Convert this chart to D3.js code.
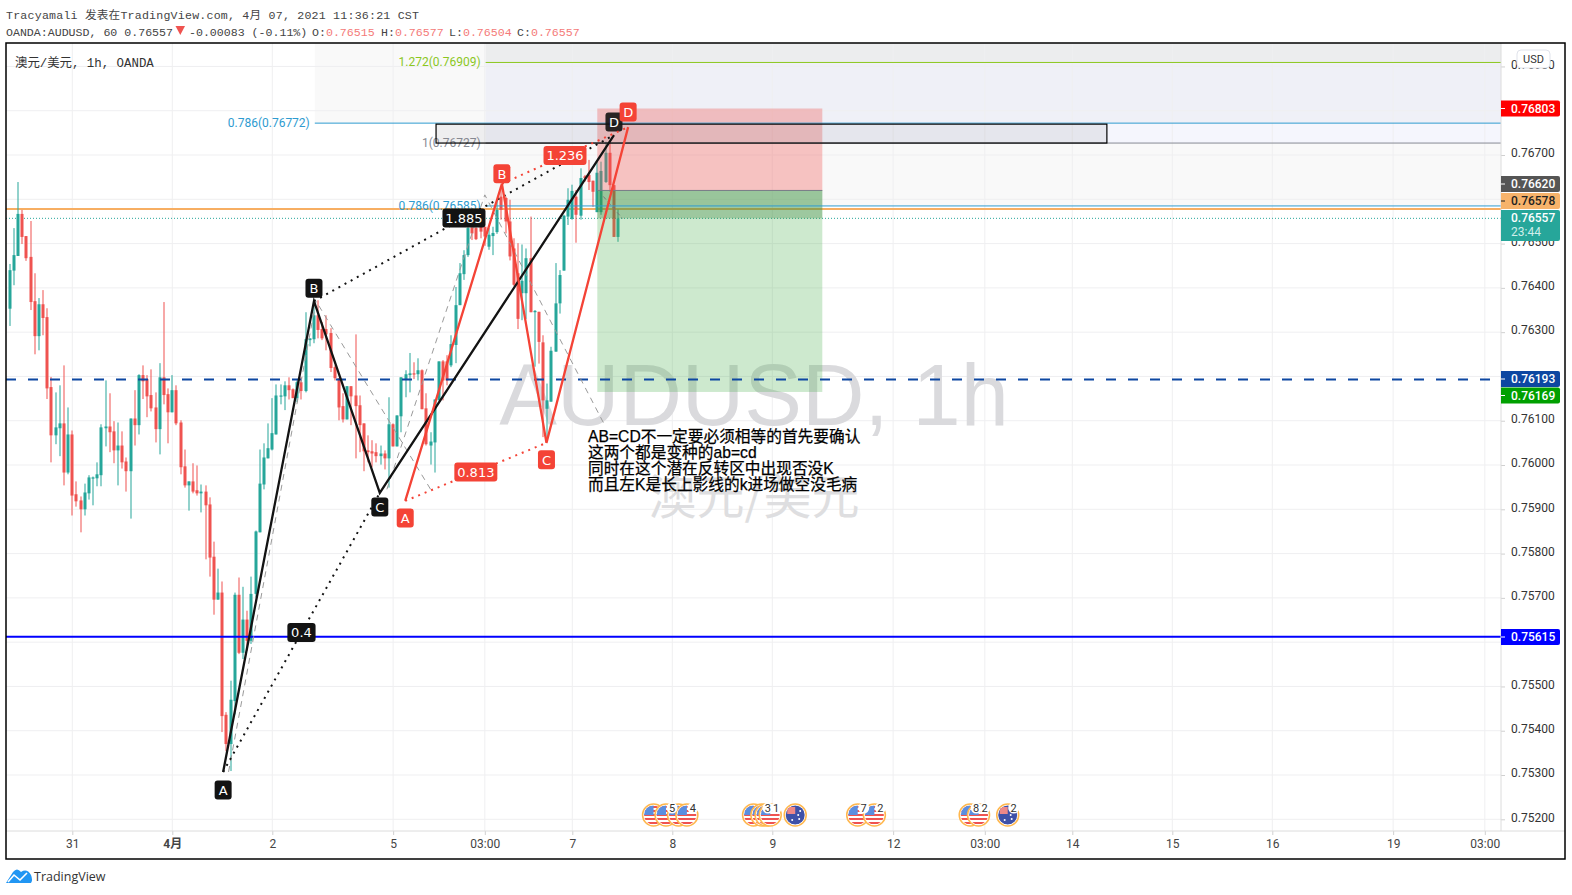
<!DOCTYPE html>
<html><head><meta charset="utf-8">
<script src="https://cdn.jsdelivr.net/npm/d3@7/dist/d3.min.js"></script>
<style>
html,body{margin:0;padding:0;background:#fff;overflow:hidden}
svg{display:block}
text{font-family:Roboto,"Noto Sans CJK SC",sans-serif}
.mono{font-family:"Liberation Mono","Noto Sans CJK SC",monospace}
</style></head><body><div id="c"></div>
<script>
// Each candle: open, high, low, close in 1e-5 price units
const candles=[
[76353,76454,76314,76440],[76439,76535,76406,76474],[76472,76639,76472,76567],[76567,76576,76499,76515],[76517,76517,76461,76467],
[76470,76551,76350,76368],[76370,76433,76250,76291],[76291,76377,76259,76363],[76363,76395,76293,76332],[76334,76354,76149,76173],
[76176,76199,76006,76067],[76067,76164,76047,76085],[76083,76180,76020,76094],[76094,76225,75954,75983],[75983,76130,75979,76069],
[76069,76078,75886,75931],[75934,75963,75906,75918],[75920,75929,75848,75900],[75900,75958,75886,75938],[75936,75977,75922,75972],
[75970,75974,75909,75972],[75970,76006,75952,75979],[75977,76092,75952,76085],[76083,76191,76042,76087],[76087,76162,76029,76074],
[76076,76099,76004,76033],[76033,76096,75954,76044],[76044,76076,75992,76006],[76008,76017,75940,75986],[75986,76105,75879,76105],
[76105,76169,76044,76090],[76090,76205,76069,76203],[76203,76225,76149,76189],[76194,76203,76108,76155],[76158,76216,76121,76128],
[76130,76164,76051,76081],[76081,76230,76024,76198],[76198,76368,76137,76158],[76160,76173,76049,76119],[76119,76203,76119,76169],
[76169,76180,76090,76094],[76096,76101,75979,75995],[75997,76035,75949,75954],[75954,75963,75897,75963],[75963,76004,75936,75940],
[75943,75999,75931,75936],[75936,75956,75893,75940],[75940,75954,75787,75909],[75911,75927,75748,75791],[75793,75827,75662,75696],
[75696,75766,75696,75712],[75712,75737,75397,75433],[75436,75442,75354,75370],[75370,75513,75309,75470],[75467,75712,75437,75707],
[75707,75746,75573,75576],[75576,75725,75562,75651],[75651,75671,75580,75603],[75603,75748,75596,75709],[75709,75852,75701,75850],
[75848,76035,75848,75958],[75956,76049,75945,76017],[76015,76094,76015,76038],[76035,76151,76033,76072],[76069,76182,76069,76157],
[76155,76182,76137,76157],[76155,76189,76124,76180],[76180,76198,76148,76169],[76171,76173,76151,76151],[76151,76191,76142,76187],
[76187,76198,76148,76167],[76167,76345,76164,76284],[76282,76286,76268,76286],[76284,76366,76275,76338],[76338,76372,76286,76305],
[76307,76323,76282,76286],[76307,76338,76259,76295],[76298,76309,76210,76219],[76221,76225,76191,76196],[76196,76196,76101,76130],
[76133,76162,76096,76103],[76103,76178,76103,76178],[76178,76178,76090,76155],[76157,76295,76015,76133],[76135,76157,76029,76090],
[76094,76094,75986,76031],[76033,76067,76006,76029],[76031,76056,75995,76026],[76029,76049,76006,76020],[76020,76044,76001,76026],
[76026,76033,75990,76015],[76015,76153,75949,76092],[76092,76094,76042,76042],[76042,76112,76042,76112],[76110,76198,76074,76198],
[76194,76214,76153,76205],[76203,76253,76164,76207],[76207,76232,76194,76205],[76205,76241,76191,76214],[76214,76216,76126,76126],
[76128,76162,76044,76047],[76044,76074,76001,76053],[76051,76148,75983,76148],[76146,76234,76146,76234],[76234,76237,76146,76191],
[76234,76248,76180,76191],[76225,76293,76221,76273],[76271,76402,76230,76361],[76361,76456,76361,76433],[76431,76485,76418,76474],
[76474,76558,76470,76535],[76536,76561,76508,76523],[76535,76538,76508,76510],[76542,76565,76512,76527],[76538,76538,76495,76516],
[76493,76535,76486,76520],[76517,76538,76474,76524],[76526,76599,76522,76576],[76606,76627,76554,76576],[76603,76606,76523,76550],
[76550,76599,76462,76471],[76489,76512,76404,76407],[76433,76501,76307,76330],[76388,76498,76327,76416],[76388,76489,76330,76467],
[76467,76561,76345,76345],[76345,76350,76222,76348],[76346,76346,76229,76278],[76277,76293,76063,76146],[76127,76184,76063,76146],
[76143,76267,76143,76258],[76256,76456,76256,76365],[76365,76440,76342,76429],[76439,76565,76439,76563],[76561,76625,76542,76599],
[76556,76633,76554,76619],[76606,76621,76502,76565],[76563,76670,76554,76648],[76652,76655,76640,76648],[76655,76689,76621,76639],
[76642,76642,76583,76617],[76571,76685,76571,76660],[76571,76685,76565,76664],[76639,76730,76637,76705],[76705,76730,76617,76632],
[76632,76632,76515,76515],[76515,76577,76504,76557]];

const priceTicks=[0.769,0.767,0.765,0.764,0.763,0.761,0.76,0.759,0.758,0.757,0.755,0.754,0.753,0.752];
const gridPrices=[0.769,0.768,0.767,0.766,0.765,0.764,0.763,0.762,0.761,0.76,0.759,0.758,0.757,0.756,0.755,0.754,0.753,0.752];
const timeTickBars=[15,39,63,92,114,135,159,183,212,234,255,279,303,332,354];
const timeTickLabels=["31","4月","2","5","03:00","7","8","9","12","03:00","14","15","16","19","03:00"];

// Harmonic patterns: [label, bar, price]
const blackPattern=[["A",51.2,0.75307],["B",73,0.76370],["C",88.8,0.75937],["D",145,0.76745]];
const redPattern=[["A",94.9,0.75919],["B",118.1,0.76635],["C",128.8,0.76050],["D",148.4,0.76763]];
const blackRatios=["0.4","1.885"];
const redRatios=["0.813","1.236"];
const channelA=[[52.5,0.75307],[73.5,0.76370],[101,0.75945]];
const channelB=[[90.5,0.75945],[114,0.76610],[142.5,0.76095]];

const fibLevels=[["1.272(0.76909)",0.76909,114.2,"#8bc71f"],["0.786(0.76772)",0.76772,73.2,"#2e9bd0"],["1(0.76727)",0.76727,114.2,"#888b94"],["0.786(0.76585)",0.76585,114.2,"#2e9bd0"]];
const position={start:141,end:195,stop:0.76805,entry:0.76620,current:0.76557,target:0.76165};
const hLines={resistance:0.76578,support:0.76193,floor:0.75612,last:0.76557};
const priceBadges=[
 ["0.76803",108.5,"#ff0000","#fff"],["0.76620",184,"#555555","#fff"],["0.76578",201,"#f7b36b","#222"],
 ["0.76193",379,"#0d47a1","#fff"],["0.76169",395.5,"#00a000","#fff"],["0.75615",637,"#0000ff","#fff"]];
const noteLines=["AB=CD不一定要必须相等的首先要确认","这两个都是变种的ab=cd","同时在这个潜在反转区中出现否没K","而且左K是长上影线的k进场做空没毛病"];
const events=[[154.5,"us",""],[157.5,"us","5"],[160.5,"us",""],[162.5,"us","4"],[178.5,"us",""],[180.5,"us","3"],[181.5,"us",""],[182.5,"us","1"],[188.5,"au",""],[203.5,"us","7"],[207.5,"us","2"],[230.5,"us","8"],[232.5,"us","2"],[239.5,"au","2"]];

const W=1572,H=895,L=6,R=1565,T=43,B=859,AX=1501,AY=831;
const x=d3.scaleLinear().domain([15,39]).range([72.3,172.3]);
const y=d3.scaleLinear().domain([0.759,0.766]).range([509.3,199.3]);
const pv=v=>y(v/1e5);
const UP="#26a69a",DN="#ef5350";
const svg=d3.select("#c").append("svg").attr("width",W).attr("height",H);
const defs=svg.append("defs");
defs.append("clipPath").attr("id","plot").append("rect").attr("x",L).attr("y",T).attr("width",AX-L).attr("height",AY-T);

// header
svg.append("text").attr("class","mono").attr("x",6).attr("y",19).attr("font-size",11.6).attr("fill","#444")
 .attr("textLength",413).attr("lengthAdjust","spacing")
 .text("Tracyamali 发表在TradingView.com, 4月 07, 2021 11:36:21 CST");
const hdr=svg.append("g").attr("font-size",11.6);
hdr.append("text").attr("class","mono").attr("x",6).attr("y",35.5).attr("fill","#444").text("OANDA:AUDUSD, 60 0.76557");
hdr.append("path").attr("d","M175.5 26h9.5l-4.7 9z").attr("fill",DN);
hdr.append("text").attr("class","mono").attr("x",189).attr("y",35.5).attr("fill","#444").text("-0.00083 (-0.11%)");
[["O:","0.76515",312],["H:","0.76577",381],["L:","0.76504",449],["C:","0.76557",517]].forEach(([k,v,px])=>{
 const t=hdr.append("text").attr("class","mono").attr("x",px).attr("y",35.5);
 t.append("tspan").attr("fill","#444").text(k);
 t.append("tspan").attr("fill","#f47a78").text(v);
});

const plot=svg.append("g").attr("clip-path","url(#plot)");
// fib zones
const zone=(b0,b1,yt,yb,c)=>plot.append("rect").attr("x",x(b0)).attr("width",x(b1)-x(b0)).attr("y",yt).attr("height",yb-yt).attr("fill",c);
zone(73.2,114.2,T,y(0.76772),"#f9f9f9");
zone(114.2,400,T,y(0.76909),"#ecedee");
zone(114.2,400,y(0.76909),y(0.76772),"#eff0f7");
zone(114.2,400,y(0.76772),y(0.76727),"#f5f6fd");
zone(114.2,400,y(0.76727),y(0.76585),"#f9f9f9");

// grid
plot.append("g").selectAll("line").data(gridPrices).join("line")
 .attr("x1",L).attr("x2",AX).attr("y1",d=>y(d)).attr("y2",d=>y(d)).attr("stroke","#efeff1");
plot.append("g").selectAll("line").data(timeTickBars).join("line")
 .attr("x1",d=>x(d)).attr("x2",d=>x(d)).attr("y1",T).attr("y2",AY).attr("stroke","#efeff1");

// watermark
plot.append("text").attr("x",754).attr("y",425).attr("text-anchor","middle")
 .style("font-family","'Liberation Sans'").attr("font-size",86.5).attr("fill","#dadadd").text("AUDUSD, 1h");
plot.append("text").attr("x",754).attr("y",514).attr("text-anchor","middle")
 .style("font-family","'Noto Sans CJK SC'").attr("font-size",48).attr("fill","#dedee0").text("澳元/美元");

// horizontal lines under candles
plot.append("line").attr("x1",L).attr("x2",AX).attr("y1",y(hLines.resistance)).attr("y2",y(hLines.resistance)).attr("stroke","#f7ae62").attr("stroke-width",2);
plot.append("line").attr("x1",L).attr("x2",AX).attr("y1",y(hLines.last)).attr("y2",y(hLines.last)).attr("stroke",UP).attr("stroke-width",1).attr("stroke-dasharray","1 2");

// candles
const cg=plot.append("g");
const col=d=>d[3]>=d[0]?UP:DN;
cg.selectAll(".w").data(candles).join("rect").attr("class","w")
 .attr("x",(d,i)=>Math.round(x(i))-0.5).attr("width",1)
 .attr("y",d=>pv(d[1])).attr("height",d=>Math.max(1,pv(d[2])-pv(d[1]))).attr("fill",col);
cg.selectAll(".b").data(candles).join("rect").attr("class","b")
 .attr("x",(d,i)=>Math.round(x(i))-1.5).attr("width",3)
 .attr("y",d=>Math.min(pv(d[0]),pv(d[3]))).attr("height",d=>Math.max(1.2,Math.abs(pv(d[0])-pv(d[3])))).attr("fill",col);

// long/short position
const px0=x(position.start),px1=x(position.end);
plot.append("rect").attr("x",px0).attr("width",px1-px0).attr("y",y(position.stop)).attr("height",y(position.entry)-y(position.stop)).attr("fill","rgba(239,83,80,.33)");
plot.append("rect").attr("x",px0).attr("width",px1-px0).attr("y",y(position.entry)).attr("height",y(position.target)-y(position.entry)).attr("fill","rgba(76,175,80,.28)");
plot.append("rect").attr("x",px0).attr("width",px1-px0).attr("y",y(position.entry)).attr("height",y(position.current)-y(position.entry)).attr("fill","rgba(46,125,50,.3)");
plot.append("line").attr("x1",px0).attr("x2",px1).attr("y1",y(position.entry)).attr("y2",y(position.entry)).attr("stroke","#787b86");
plot.append("line").attr("x1",px0+6).attr("x2",x(147)).attr("y1",y(position.entry)+6).attr("y2",y(position.current)).attr("stroke","#777").attr("stroke-dasharray","4 3");

// solid levels
plot.append("line").attr("x1",L).attr("x2",AX).attr("y1",y(hLines.support)).attr("y2",y(hLines.support)).attr("stroke","#0d47a1").attr("stroke-width",2).attr("stroke-dasharray","10 12");
plot.append("line").attr("x1",L).attr("x2",AX).attr("y1",y(hLines.floor)).attr("y2",y(hLines.floor)).attr("stroke","#0000ff").attr("stroke-width",2);

// fib lines and labels
fibLevels.forEach(([lab,p,b,c])=>{
 plot.append("line").attr("x1",x(b)).attr("x2",AX).attr("y1",y(p)).attr("y2",y(p)).attr("stroke",c);
 plot.append("text").attr("x",x(b)-5).attr("y",y(p)+4).attr("text-anchor","end").attr("font-size",12).attr("fill",c).text(lab);
});
// gray rectangle
plot.append("rect").attr("x",x(102.3)).attr("width",x(263.3)-x(102.3)).attr("y",y(0.76772)+1).attr("height",y(0.76727)-y(0.76772)-1)
 .attr("fill","rgba(120,123,134,.13)").attr("stroke","#000").attr("stroke-width",1.2);

// dashed channels
const ln=d3.line().x(d=>x(d[0])).y(d=>y(d[1]));
[channelA,channelB].forEach(c=>plot.append("path").attr("d",ln(c)).attr("fill","none").attr("stroke","#9a9a9a").attr("stroke-dasharray","6 5"));

function drawPattern(pts,ratios,color,offs){
 const p2=pts.map(d=>[d[1],d[2]]);
 plot.append("path").attr("d",ln(p2)).attr("fill","none").attr("stroke",color).attr("stroke-width",2.3);
 const dotted=[[p2[0],p2[2]],[p2[1],p2[3]]];
 dotted.forEach((s,i)=>{
  plot.append("path").attr("d",ln(s)).attr("fill","none").attr("stroke",color).attr("stroke-width",2).attr("stroke-dasharray","2 5");
  const mx=(x(s[0][0])+x(s[1][0]))/2,my=(y(s[0][1])+y(s[1][1]))/2;
  const w=ratios[i].length*7.4+6;
  plot.append("rect").attr("x",mx-w/2).attr("y",my-9.5).attr("width",w).attr("height",19).attr("rx",3).attr("fill",color);
  plot.append("text").attr("x",mx).attr("y",my+5).attr("text-anchor","middle").attr("font-size",13).style("font-family","'DejaVu Sans'").attr("fill","#fff").text(ratios[i]);
 });
 pts.forEach((d,i)=>{
  const cx=x(d[1]),cy=y(d[2])+offs[i];
  plot.append("rect").attr("x",cx-8.5).attr("y",cy-9.5).attr("width",17).attr("height",19).attr("rx",3).attr("fill",color).attr("fill-opacity",color=="#131313"&&i==3?.9:1);
  plot.append("text").attr("x",cx).attr("y",cy+5).attr("text-anchor","middle").attr("font-size",13).style("font-family","'DejaVu Sans'").attr("fill","#fff").text(d[0]);
 });
}
drawPattern(blackPattern,blackRatios,"#131313",[18,-13,14,-13]);
drawPattern(redPattern,redRatios,"#f44336",[17,-10,17,-15]);

// note text
noteLines.forEach((t,i)=>plot.append("text").attr("x",588).attr("y",442+i*16).attr("font-size",15.7)
 .style("font-family","'Liberation Sans','Noto Sans CJK SC'").attr("fill","#000").attr("stroke","#000").attr("stroke-width",.25).text(t));

// events
const ev=plot.append("g");
events.forEach((e,i)=>{
 const cx=x(e[0]),cy=815,id="ev"+i;
 defs.append("clipPath").attr("id",id).append("circle").attr("cx",cx).attr("cy",cy).attr("r",9.5);
 const g=ev.append("g");
 g.append("circle").attr("cx",cx).attr("cy",cy).attr("r",11).attr("fill","#fff").attr("stroke","#ffb74d").attr("stroke-width",1.5);
 const f=g.append("g").attr("clip-path",`url(#${id})`);
 if(e[1]=="us"){
  d3.range(5).forEach(k=>f.append("rect").attr("x",cx-10).attr("y",cy-9+k*4).attr("width",20).attr("height",2).attr("fill","#ef5350"));
  f.append("rect").attr("x",cx-10).attr("y",cy-10).attr("width",10).attr("height",10).attr("fill","#5b8ee0");
 } else {
  f.append("circle").attr("cx",cx).attr("cy",cy).attr("r",10).attr("fill","#3f51a8");
  f.append("rect").attr("x",cx-8).attr("y",cy-8).attr("width",8).attr("height",7).attr("fill","#e88");
  [[3,0],[5,-4],[4,4],[-3,5]].forEach(o=>f.append("circle").attr("cx",cx+o[0]).attr("cy",cy+o[1]).attr("r",1).attr("fill","#fff"));
 }
});
events.filter(e=>e[2]).forEach(e=>{
 const cx=x(e[0])+6;
 ev.append("circle").attr("cx",cx).attr("cy",808).attr("r",5.5).attr("fill","#fff");
 ev.append("text").attr("x",cx).attr("y",812).attr("text-anchor","middle").attr("font-size",11).attr("fill","#333").text(e[2]);
});

// top-left title
svg.append("text").attr("class","mono").attr("x",15).attr("y",67).attr("font-size",12.4).attr("fill","#333").text("澳元/美元, 1h, OANDA");

// axes
const yAxis=d3.axisRight(y).tickValues(priceTicks).tickFormat(d3.format(".5f")).tickSize(4).tickPadding(6);
const gy=svg.append("g").attr("transform",`translate(${AX},0)`).call(yAxis);
gy.select(".domain").remove();
gy.selectAll("text").attr("font-size",12).attr("fill","#333").attr("dy","0.15em").attr("x",10).style("font-family","Roboto");
gy.selectAll("line").attr("stroke","#d0d0d0");
const xAxis=d3.axisBottom(x).tickValues(timeTickBars).tickFormat((d,i)=>timeTickLabels[i]).tickSize(4).tickPadding(4);
const gx=svg.append("g").attr("transform",`translate(0,${AY})`).call(xAxis);
gx.select(".domain").remove();
gx.selectAll("text").attr("font-size",12).attr("fill","#444").style("font-family","Roboto,'Noto Sans CJK SC'").attr("font-weight",(d,i)=>i==1?700:400);
gx.selectAll("line").attr("stroke","#d0d0d0");
svg.append("line").attr("x1",L).attr("x2",R).attr("y1",AY).attr("y2",AY).attr("stroke","#dcdcdc");
svg.append("line").attr("x1",AX).attr("x2",AX).attr("y1",T).attr("y2",AY).attr("stroke","#dcdcdc");

// price badges
const badge=(t,cy,bg,fg,h=16)=>{
 svg.append("path").attr("d",`M${AX} ${cy-h/2}H${AX+57}a2 2 0 0 1 2 2V${cy+h/2-2}a2 2 0 0 1 -2 2H${AX}Z`).attr("fill",bg);
 svg.append("line").attr("x1",AX).attr("x2",AX+4).attr("y1",cy).attr("y2",cy).attr("stroke",fg);
 svg.append("text").attr("x",AX+10).attr("y",cy+4).attr("font-size",12).attr("font-weight",500).attr("fill",fg).text(t);
};
priceBadges.forEach(d=>badge(...d));
svg.append("path").attr("d",`M${AX} 210H${AX+57}a2 2 0 0 1 2 2V239a2 2 0 0 1 -2 2H${AX}Z`).attr("fill",UP);
svg.append("text").attr("x",AX+10).attr("y",222).attr("font-size",12).attr("font-weight",500).attr("fill","#fff").text("0.76557");
svg.append("text").attr("x",AX+10).attr("y",236).attr("font-size",12).attr("fill","#cfeeea").text("23:44");

// USD badge
svg.append("rect").attr("x",1517).attr("y",50).attr("width",33).attr("height",18).attr("rx",4).attr("fill","#fff").attr("stroke","#e0e3eb");
svg.append("text").attr("x",1533.5).attr("y",63).attr("text-anchor","middle").attr("font-size",11).attr("fill","#333").text("USD");

// frame
svg.append("rect").attr("x",L).attr("y",T).attr("width",R-L).attr("height",B-T).attr("fill","none").attr("stroke","#000").attr("stroke-width",1.5);

// footer
svg.append("path").attr("d","M6 883L13 872Q17 867 21 872Q27 868 31 875Q33 880 31 883Z").attr("fill","#2196f3");
svg.append("path").attr("d","M8 882L14 875L20 880L27 873").attr("fill","none").attr("stroke","#fff").attr("stroke-width",1.6);
svg.append("text").attr("x",34).attr("y",881).attr("font-size",12.5).attr("fill","#333").style("font-family","'Open Sans',Roboto").text("TradingView");
</script></body></html>
